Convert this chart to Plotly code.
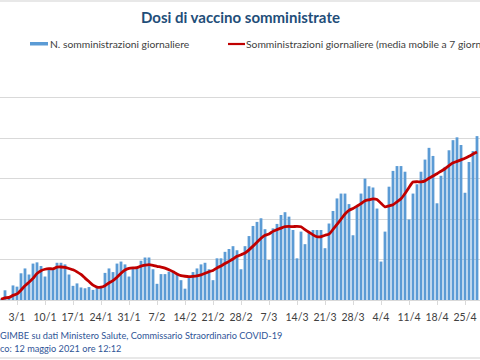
import pandas as pd
import plotly.graph_objects as go

# ---------------- data (thousands of doses) ----------------
start_date = "2020-12-30"

daily_doses_k = [
    2, 24,
    8, 36, 33, 66, 78, 63, 90, 93, 84, 58, 76, 76, 92, 92, 88, 63, 35, 41, 31, 29,
    32, 25, 31, 33, 67, 78, 69, 90, 95, 88, 58,
    77, 82, 97, 105, 105, 76, 40, 64, 64, 70, 72, 64, 49, 28, 58, 69, 78, 88, 92, 76,
    49, 103, 103, 119, 126, 133, 123, 76,
    133, 158, 183, 193, 202, 175, 99, 177, 188, 210, 217, 206, 173, 103, 169, 138, 165,
    173, 173, 173, 128, 189, 220, 251, 263, 263, 237, 160, 230, 263, 300,
    281, 278, 226, 95, 169, 280, 319, 331, 331, 317, 199, 263, 286, 317, 347, 376, 356,
    239, 307, 329, 370, 395, 402, 383, 265, 341, 368, 405,
]

moving_avg_k = [
    1.7, 5.1,
    6.3, 11.4, 15.1, 24.4, 35.3, 44.0, 53.4, 65.6, 72.4, 76.0, 77.4, 77.1, 81.3, 81.6,
    80.9, 77.9, 74.6, 69.6, 63.1, 54.1, 45.6, 36.6, 32.0, 31.7, 35.4, 42.1, 47.9, 56.1,
    66.1, 74.3, 77.9,
    79.3, 79.9, 83.9, 86.0, 87.4, 85.7, 83.1, 81.3, 78.7, 74.9, 70.1, 64.3, 60.4, 58.7,
    57.9, 58.6, 59.7, 62.0, 66.0, 69.9, 72.9, 79.3, 84.1, 90.0, 95.4, 101.3, 108.0, 111.9,
    116.1, 124.0, 133.1, 142.7, 152.6, 160.0, 163.3, 169.6, 173.9, 177.7, 181.1, 181.7,
    181.4, 182.0, 180.9, 173.7, 167.3, 161.0, 156.3, 156.3, 159.9, 162.7, 174.4, 186.7,
    199.6, 212.4, 221.6, 226.1, 232.0, 238.1, 245.1,
    247.7, 249.9, 248.3, 239.0, 230.3, 232.7, 235.4, 242.6, 250.1, 263.1, 278.0, 291.4,
    292.3, 292.0, 294.3, 300.7, 306.3, 312.0, 318.3, 324.4, 332.0, 338.9, 342.6, 346.4,
    350.1, 355.0, 360.6, 365.6,
]

tick_dates = [
    "2021-01-03", "2021-01-10", "2021-01-17", "2021-01-24", "2021-01-31",
    "2021-02-07", "2021-02-14", "2021-02-21", "2021-02-28", "2021-03-07",
    "2021-03-14", "2021-03-21", "2021-03-28", "2021-04-04", "2021-04-11",
    "2021-04-18", "2021-04-25",
]
tick_labels = [
    "3/1", "10/1", "17/1", "24/1", "31/1", "7/2", "14/2", "21/2", "28/2",
    "7/3", "14/3", "21/3", "28/3", "4/4", "11/4", "18/4", "25/4",
]
grid_values = [100000, 200000, 300000, 400000, 500000, 600000]

title_text = "Dosi di vaccino somministrate"
bar_name = "N. somministrazioni giornaliere"
line_name = "Somministrazioni giornaliere (media mobile a 7 giorni)"
footer_1 = "GIMBE su dati Ministero Salute, Commissario Straordinario COVID-19"
footer_2 = "co: 12 maggio 2021 ore 12:12"

# ---------------- figure ----------------
dates = pd.date_range(start_date, periods=len(daily_doses_k), freq="D")
FONT = "'Liberation Sans Narrow', 'Arial Narrow', Lato, sans-serif"
TITLE_FONT = "Lato, 'Open Sans', sans-serif"
BLUE = "#5B9BD5"
RED = "#C00000"
GRID = "#D9D9D9"

fig = go.Figure()
fig.add_bar(x=dates, y=[v * 1000 for v in daily_doses_k], name=bar_name,
            marker=dict(color=BLUE, line=dict(width=0)))
fig.add_scatter(x=dates, y=[v * 1000 for v in moving_avg_k], name=line_name,
                mode="lines", line=dict(color=RED, width=2.8, shape="spline", smoothing=0.6))

H_TOP, H_BOT = 57, 300   # plot area pixel rows


def py(p):
    return (H_BOT - p) / (H_BOT - H_TOP)


def px(p):
    return p / 480


annotations = [
    dict(text="<b>" + title_text + "</b>", x=0.5, y=py(17), xanchor="center", yanchor="middle",
         font=dict(size=15, color="#1F4E79", family=TITLE_FONT)),
    dict(text=bar_name, x=px(48), y=py(44), xanchor="left", yanchor="middle",
         font=dict(size=10.3, color="#404040", family=FONT)),
    dict(text=line_name, x=px(244), y=py(44), xanchor="left", yanchor="middle",
         font=dict(size=10.3, color="#404040", family=FONT)),
    dict(text=footer_1, x=px(-2), y=py(335), xanchor="left", yanchor="middle",
         font=dict(size=9.2, color="#2F5597", family=FONT)),
    dict(text=footer_2, x=px(-2), y=py(348), xanchor="left", yanchor="middle",
         font=dict(size=9.2, color="#2F5597", family=FONT)),
]
for a in annotations:
    a.update(xref="paper", yref="paper", showarrow=False)

shapes = [
    dict(type="rect", x0=px(30), x1=px(48), y0=py(45.5), y1=py(42), fillcolor=BLUE, line=dict(width=0)),
    dict(type="line", x0=px(228), x1=px(245), y0=py(44), y1=py(44), line=dict(color=RED, width=2.2)),
    dict(type="line", x0=0, x1=1, y0=py(1), y1=py(1), line=dict(color="#E0E0E0", width=1.5)),
    dict(type="line", x0=0, x1=1, y0=py(358), y1=py(358), line=dict(color="#E0E0E0", width=1.5)),
]
for s in shapes:
    s.update(xref="paper", yref="paper")

fig.update_layout(
    width=480, height=360,
    margin=dict(l=0, r=0, t=H_TOP, b=360 - H_BOT),
    paper_bgcolor="white", plot_bgcolor="white",
    showlegend=False, bargap=0.3,
    annotations=annotations, shapes=shapes,
    xaxis=dict(
        type="date",
        range=["2020-12-29 18:00", "2021-04-28 18:00"],
        tickmode="array", tickvals=tick_dates, ticktext=tick_labels,
        ticks="outside", ticklen=4, tickcolor=GRID,
        showline=True, linecolor=GRID, linewidth=1,
        showgrid=False, zeroline=False,
        ticklabelstandoff=3,
        tickfont=dict(size=10.5, color="#404040", family=FONT),
    ),
    yaxis=dict(
        range=[0, 600500],
        tickmode="array", tickvals=grid_values,
        showticklabels=False, ticks="",
        showgrid=True, gridcolor=GRID, gridwidth=1,
        zeroline=False, showline=False,
    ),
)

fig.write_html(
    "out.html",
    config={"displayModeBar": False},
    post_script="document.body.style.margin='0';document.body.style.overflow='hidden';",
)
